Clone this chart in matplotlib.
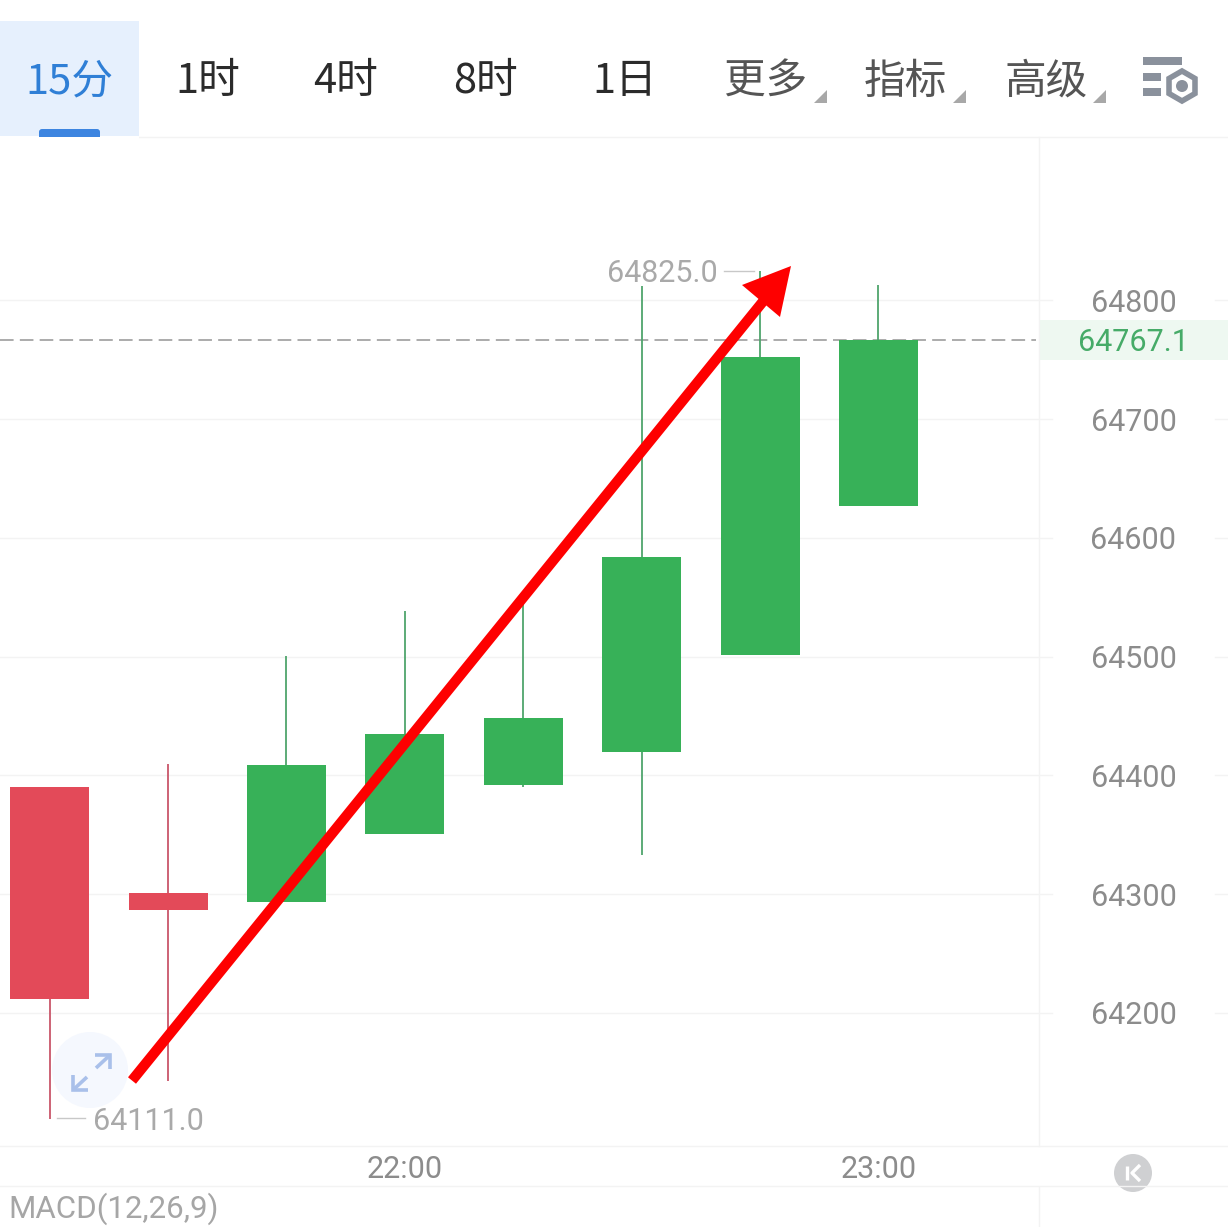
import matplotlib
matplotlib.use("Agg")
import matplotlib.pyplot as plt
from matplotlib.patches import Rectangle, Polygon, Circle, RegularPolygon, FancyBboxPatch

plt.rcParams['font.family'] = ['Noto Sans CJK SC', 'DejaVu Sans']

# ---- data ----
opens  = [64390, 64301, 64293.5, 64351, 64392, 64420, 64501.5, 64627]
closes = [64212, 64287, 64409, 64435, 64448.5, 64584, 64752.4, 64767.1]
highs  = [64390, 64410, 64500.6, 64538.5, 64545, 64812, 64825, 64813]
lows   = [64111, 64143, 64293.5, 64351, 64390, 64333, 64501.5, 64627]
price_ticks = [64200, 64300, 64400, 64500, 64600, 64700, 64800]
time_idx = [3, 7]
time_labels = ['22:00', '23:00']
last_price = 64767.1
max_label = '64825.0'
min_label = '64111.0'
tabs = ['15分', '1时', '4时', '8时', '1日', '更多', '指标', '高级']
tab_x = [69, 208, 346, 485, 625, 766, 905, 1046]

W, H = 1228, 1227
GREEN, RED = '#37b158', '#e34a59'
GREENW, REDW = '#4fa56c', '#c9566a'
GRID = '#f3f3f3'
NUMF = ['Roboto', 'DejaVu Sans']
NUMS = 22

fig = plt.figure(figsize=(W/100, H/100), dpi=100, facecolor='white')

# pixel -> data mappings of the price chart
top_px, bot_px = 137, 1146
scale = 1.1875
y2p = lambda y: 64800 - (y - 300.5) / scale
x2i = lambda x: (x - 49.6) / 118.4

ax = fig.add_axes([0, 1 - bot_px/H, 1, (bot_px - top_px)/H])
ax.set_xlim(x2i(0), x2i(W))
ax.set_ylim(y2p(bot_px), y2p(top_px))
for s in ax.spines.values():
    s.set_visible(False)
ax.set_yticks([])
ax.set_xticks(time_idx)
ax.set_xticklabels(time_labels, fontsize=NUMS, color='#8c8c8c', family=NUMF)
ax.tick_params(axis='x', length=0, pad=6.5)

# grid
for p in price_ticks:
    ax.plot([x2i(0), x2i(1052)], [p, p], color=GRID, lw=1, zorder=1)
    ax.plot([x2i(1215), x2i(W)], [p, p], color=GRID, lw=1, zorder=1)
    ax.text(x2i(1133.5), p, str(p), ha='center', va='center_baseline',
            fontsize=NUMS, color='#8c8c8c', family=NUMF, zorder=5)

# last price band & line
ax.add_patch(Rectangle((x2i(1040), y2p(360)), x2i(W) - x2i(1040), y2p(320) - y2p(360),
                       color='#eef8f1', lw=0, zorder=1))
ax.plot([x2i(0), x2i(1036)], [last_price, last_price], color='#ababab', lw=1.4,
        dashes=(7, 3.2), zorder=2)
ax.text(x2i(1133), last_price, f'{last_price:.1f}', ha='center', va='center_baseline',
        fontsize=NUMS, color='#46ab68', family=NUMF, zorder=5)

# candles
for i, (o, c, h, l) in enumerate(zip(opens, closes, highs, lows)):
    up = c >= o
    ax.plot([i, i], [l, h], color=GREENW if up else REDW, lw=1.3, zorder=3, solid_capstyle='butt')
    ax.bar(i, abs(c - o), bottom=min(o, c), width=79/118.4,
           color=GREEN if up else RED, lw=0, zorder=4)

# overlay in pixels for app chrome and annotations
ov = fig.add_axes([0, 0, 1, 1], facecolor='none')
ov.set_xlim(0, W)
ov.set_ylim(H, 0)
ov.axis('off')

# frame lines
ov.plot([139, W], [137, 137], color=GRID, lw=1)
ov.plot([0, W], [1146, 1146], color=GRID, lw=1)
ov.plot([0, W], [1186, 1186], color=GRID, lw=1)
ov.plot([1039, 1039], [137, 1146], color=GRID, lw=1)
ov.plot([1039, 1039], [1187, H], color=GRID, lw=1)

# toolbar
ov.add_patch(Rectangle((0, 21), 139, 115, color='#e6f0fd', lw=0))
ov.add_patch(FancyBboxPatch((42, 132), 55, 8, boxstyle='round,pad=3,rounding_size=3',
                            color='#3d85e0', lw=0, clip_on=True))
ov.add_patch(Rectangle((0, 136.5), 139, 6, color='white', lw=0, zorder=3))
for k, (t, x) in enumerate(zip(tabs, tab_x)):
    col = '#2f7fd6' if k == 0 else ('#2b2b2b' if k < 5 else '#555555')
    ov.text(x, 82, t, ha='center', va='center', fontsize=30, color=col,
            fontweight='light' if k else 'normal')
for x in (827, 966, 1106):
    ov.add_patch(Polygon([(x - 13, 103), (x, 103), (x, 90)], color='#a8a8a8', lw=0))

# settings icon
ICON = '#8a919c'
ov.add_patch(Rectangle((1143, 57), 39, 8, color=ICON, lw=0))
ov.add_patch(Rectangle((1143, 73), 18, 8, color=ICON, lw=0))
ov.add_patch(Rectangle((1143, 88), 18, 8, color=ICON, lw=0))
ov.add_patch(RegularPolygon((1182, 86), 6, radius=15, facecolor='white', edgecolor=ICON, lw=4))
ov.add_patch(Circle((1182, 86), 6, color=ICON, lw=0))

# extreme labels
ov.text(718, 274, max_label, ha='right', va='center', fontsize=NUMS, color='#a9a9a9', family=NUMF)
ov.plot([724, 754], [271, 271], color='#c8c8c8', lw=1)
ov.text(93, 1122, min_label, ha='left', va='center', fontsize=NUMS, color='#a9a9a9', family=NUMF)
ov.plot([57, 85], [1118, 1118], color='#c8c8c8', lw=1)
ov.text(8, 1209, 'MACD(12,26,9)', ha='left', va='center', fontsize=22.5, color='#a6a6a6', family=NUMF)

# expand button
ov.add_patch(Circle((90, 1070), 38, color='#f5f8fe', lw=0))
ARW = '#a9c0ea'
for xs, ys in [([96, 110], [1068, 1055]), ([95, 110, 110], [1055, 1055, 1069]),
               ([87, 73], [1077, 1090]), ([73, 73, 88], [1075, 1090, 1090])]:
    ov.plot(xs, ys, color=ARW, lw=2.6, solid_capstyle='butt', solid_joinstyle='miter')

# collapse button
ov.add_patch(Circle((1133, 1173), 19, color='#cfd0d2', lw=0))
ov.plot([1127, 1127], [1166, 1180], color='white', lw=2.4, solid_capstyle='butt')
ov.plot([1140, 1132, 1140], [1165, 1173, 1181], color='white', lw=2.4, solid_capstyle='butt')

# red arrow
ov.plot([132, 765], [1080.5, 299], color='#fe0000', lw=7.4, solid_capstyle='butt', zorder=6)
ov.add_patch(Polygon([(791, 266), (742, 285), (780, 317)], color='#fe0000', lw=0, zorder=6))

fig.savefig('out.png', dpi=100)
